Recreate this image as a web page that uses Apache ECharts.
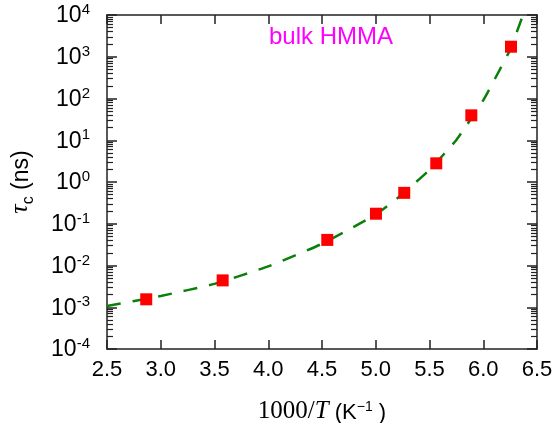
<!DOCTYPE html>
<html><head><meta charset="utf-8">
<script src="https://cdn.jsdelivr.net/npm/echarts@6/dist/echarts.min.js"></script>
<style>html,body{margin:0;padding:0;background:#fff}#c{width:557px;height:423px}</style>
</head><body><div id="c"></div>
<script>
// measured points (1000/T, tau_c in ns)
const pointX = [2.865, 3.576, 4.549, 5.002, 5.265, 5.563, 5.889, 6.258];
const pointTau = [1.55e-3, 4.4e-3, 0.041, 0.174, 0.55, 2.8, 39.5, 1740];
// dashed fit curve
const fitX = [2.5, 3.0, 3.5, 4.0, 4.5, 5.0, 5.25, 5.5, 5.75, 6.0, 6.125, 6.25, 6.37];
const fitTau = [1.07e-3, 1.86e-3, 3.63e-3, 9.55e-3, 0.0331, 0.166, 0.52, 1.97, 10.2, 91, 355, 1480, 1e4];
// axes
const xTicks = [2.5, 3.0, 3.5, 4.0, 4.5, 5.0, 5.5, 6.0, 6.5];
const yExps = [-4, -3, -2, -1, 0, 1, 2, 3, 4];
const minorMult = [2, 3, 4, 5, 6, 7, 8, 9];
const labelText = 'bulk HMMA';

const minorVals = [];
yExps.slice(0, -1).forEach(e => minorMult.forEach(m => minorVals.push(+(m * Math.pow(10, e)).toPrecision(3))));

const sans = '"Liberation Sans", Arial, sans-serif';
const serif = '"Liberation Serif", "DejaVu Serif", serif';
const axisColor = '#222';

function yAxisBase(pos, minor) {
  return {
    type: 'log', logBase: 10, min: Math.pow(10, yExps[0]), max: Math.pow(10, yExps[yExps.length - 1]),
    position: pos, splitNumber: yExps.length - 1,
    axisLine: { show: !minor, lineStyle: { color: axisColor, width: 1.5 } },
    axisTick: minor ? { show: true, inside: true, length: 6, customValues: minorVals, lineStyle: { color: axisColor, width: 1.2 } }
                    : { show: true, inside: true, length: 10, lineStyle: { color: axisColor, width: 1.5 } },
    axisLabel: { show: false },
    splitLine: { show: false }, minorTick: { show: false }
  };
}

const y0 = yAxisBase('left', false);
y0.axisLabel = {
  show: true, margin: 17,
  formatter: v => '{b|10}{s|' + Math.round(Math.log10(v)) + '}',
  rich: {
    b: { fontFamily: sans, fontSize: 23, color: '#000', verticalAlign: 'bottom' },
    s: { fontFamily: sans, fontSize: 15, color: '#000', verticalAlign: 'bottom', padding: [0, 0, 10, 0] }
  }
};
y0.name = '{t|τ}{c|c}{k| (ns)}';
y0.nameLocation = 'middle';
y0.nameGap = 74;
y0.nameTextStyle = {
  rich: {
    t: { fontFamily: serif, fontStyle: 'italic', fontSize: 26, color: '#000', verticalAlign: 'bottom' },
    c: { fontFamily: sans, fontSize: 16, color: '#000', verticalAlign: 'bottom', padding: [0, 0, -4, 0] },
    k: { fontFamily: sans, fontSize: 23, color: '#000', verticalAlign: 'bottom' }
  }
};

function xAxisBase(pos) {
  return {
    type: 'value', min: xTicks[0], max: xTicks[xTicks.length - 1], interval: 0.5, position: pos,
    axisLine: { show: true, onZero: false, lineStyle: { color: axisColor, width: 1.5 } },
    axisTick: { show: true, inside: true, length: 9, lineStyle: { color: axisColor, width: 1.5 } },
    axisLabel: { show: false }, splitLine: { show: false }
  };
}
const x0 = xAxisBase('bottom');
x0.axisLabel = { show: true, margin: 10, fontFamily: sans, fontSize: 22, color: '#000', formatter: v => v.toFixed(1) };
x0.name = '{m|1000/}{i|T}{k| (K}{e|−1}{k| )}';
x0.nameLocation = 'middle';
x0.nameGap = 50;
x0.nameTextStyle = {
  rich: {
    m: { fontFamily: serif, fontSize: 25, color: '#000', verticalAlign: 'bottom' },
    i: { fontFamily: serif, fontStyle: 'italic', fontSize: 25, color: '#000', verticalAlign: 'bottom' },
    k: { fontFamily: sans, fontSize: 22, color: '#000', verticalAlign: 'bottom' },
    e: { fontFamily: sans, fontSize: 14, color: '#000', verticalAlign: 'bottom', padding: [0, 0, 10, 0] }
  }
};

const chart = echarts.init(document.getElementById('c'), null, { renderer: 'canvas' });
chart.setOption({
  backgroundColor: '#fff',
  animation: false,
  grid: { left: 107, right: 20, top: 15, bottom: 74, containLabel: false, outerBoundsMode: 'none' },
  xAxis: [x0, xAxisBase('top')],
  yAxis: [y0, yAxisBase('left', true), yAxisBase('right', false), yAxisBase('right', true)],
  graphic: [{
    type: 'text', left: 269, top: 25,
    style: { text: labelText, fill: '#ff00ff', font: '24px "Liberation Sans", Arial, sans-serif' }
  }],
  series: [
    {
      type: 'line', xAxisIndex: 0, yAxisIndex: 0, smooth: 0.15, symbol: 'none', clip: true,
      data: fitX.map((x, i) => [x, fitTau[i]]),
      lineStyle: { color: '#0a800a', width: 2.5, type: [14, 12] }, z: 2
    },
    {
      type: 'scatter', xAxisIndex: 0, yAxisIndex: 0, symbol: 'rect', symbolSize: 12,
      data: pointX.map((x, i) => [x, pointTau[i]]),
      itemStyle: { color: '#ff0000', opacity: 1 }, z: 3
    }
  ]
});
</script>
</body></html>
